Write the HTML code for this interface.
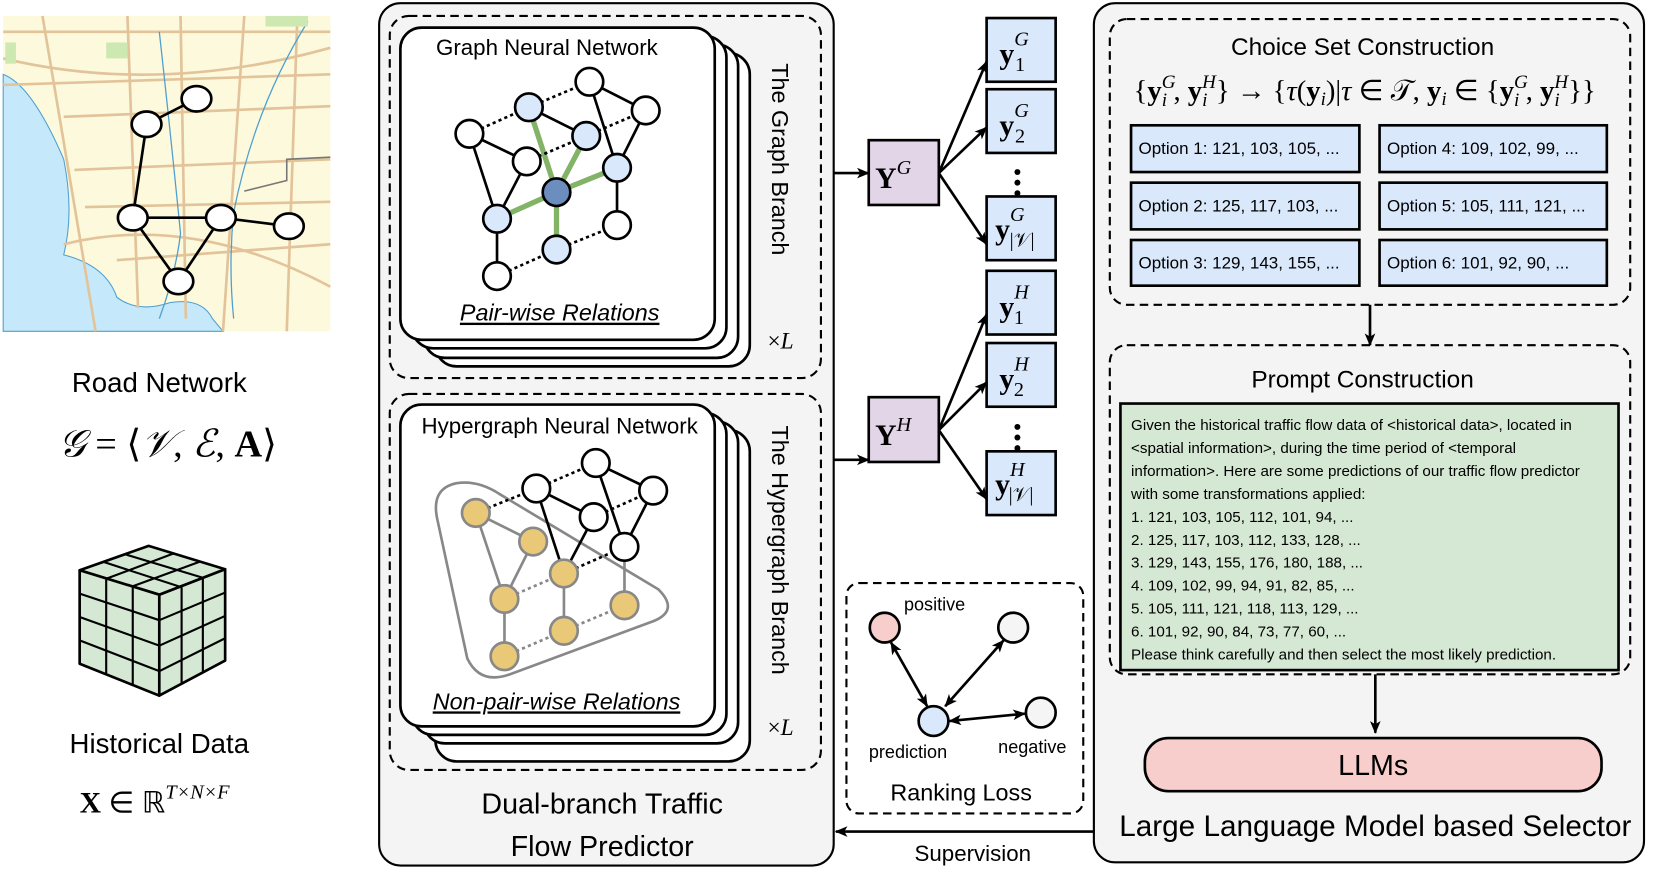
<!DOCTYPE html>
<html><head><meta charset="utf-8"><style>
html,body{margin:0;padding:0;background:#fff;}
svg{display:block;}
text{font-family:"Liberation Sans",sans-serif;fill:#000;}
.m{font-family:"Liberation Serif",serif;}
</style></head><body>
<svg width="1661" height="874" viewBox="0 0 1564 823" preserveAspectRatio="none" xmlns="http://www.w3.org/2000/svg">
<defs>
<marker id="ah" viewBox="0 0 12 10" refX="11" refY="5" markerWidth="12" markerHeight="10" markerUnits="userSpaceOnUse" orient="auto-start-reverse"><path d="M0,0 L12,5 L0,10 L3,5 z" fill="#000"/></marker>
</defs>
<!-- Map -->
<g>
<rect x="3" y="15" width="308" height="297" fill="#fdf9dc"/>
<path d="M3,70 Q30,80 60,150 Q70,200 60,240 Q100,250 110,280 Q130,295 160,285 Q190,280 200,300 L210,312 L3,312 z" fill="#c5e8fa" stroke="#4d9fd0" stroke-width="1"/>
<g fill="none" stroke="#e3c39a" stroke-width="2.5">
<path d="M3,30 L311,30"/><path d="M3,80 L311,70"/><path d="M60,110 L311,100"/><path d="M70,160 L311,150"/><path d="M80,195 L311,190"/><path d="M110,245 L311,230"/>
<path d="M40,15 L90,312"/><path d="M120,15 L130,290"/><path d="M170,15 L175,300"/><path d="M230,15 L210,312"/><path d="M280,15 L270,312"/>
<path d="M3,55 Q150,90 311,45"/><path d="M60,230 Q180,200 311,270"/>
</g>
<g fill="none" stroke="#4d9fd0" stroke-width="1.2"><path d="M150,30 Q160,120 170,220 Q165,260 150,300"/><path d="M290,20 Q240,100 220,200 Q215,250 220,300"/></g>
<path d="M230,180 L270,170 L270,150 L311,148" fill="none" stroke="#777" stroke-width="1.5"/>
<g fill="#cde8b0"><rect x="100" y="40" width="20" height="15"/><rect x="250" y="15" width="40" height="10"/><rect x="5" y="40" width="10" height="20"/></g>
<g stroke="#000" stroke-width="2.5"><line x1="185" y1="93" x2="138" y2="117"/><line x1="138" y1="117" x2="125" y2="205"/><line x1="125" y1="205" x2="208" y2="205"/><line x1="208" y1="205" x2="272" y2="213"/><line x1="125" y1="205" x2="168" y2="265"/><line x1="208" y1="205" x2="168" y2="265"/></g>
<g fill="#fff" stroke="#000" stroke-width="2.5"><ellipse cx="185" cy="93" rx="14" ry="12"/><ellipse cx="138" cy="117" rx="14" ry="12"/><ellipse cx="125" cy="205" rx="14" ry="12"/><ellipse cx="208" cy="205" rx="14" ry="12"/><ellipse cx="272" cy="213" rx="14" ry="12"/><ellipse cx="168" cy="265" rx="14" ry="12"/></g>
</g>
<text x="150" y="369" font-size="26" text-anchor="middle">Road Network</text>
<text x="158" y="430" font-size="36" text-anchor="middle" class="m"><tspan font-style="italic">𝒢</tspan> = ⟨<tspan font-style="italic">𝒱</tspan>, <tspan font-style="italic">ℰ</tspan>, <tspan font-weight="bold">A</tspan>⟩</text>
<!-- Cube -->
<g stroke="#000" stroke-width="2.5" fill="#d5e8d4" stroke-linejoin="round">
<polygon points="75,537 140,514 212,536 150,560"/>
<polygon points="75,537 150,560 150,655 75,625"/>
<polygon points="150,560 212,536 212,622 150,655"/>
<g fill="none" stroke-width="2">
<line x1="97" y1="529" x2="171" y2="553"/><line x1="118" y1="522" x2="191" y2="544"/>
<line x1="100" y1="545" x2="164" y2="521"/><line x1="125" y1="552" x2="188" y2="529"/>
<line x1="100" y1="545" x2="100" y2="635"/><line x1="125" y1="552" x2="125" y2="645"/>
<line x1="171" y1="553" x2="171" y2="644"/><line x1="191" y1="544" x2="191" y2="633"/>
<line x1="75" y1="559" x2="150" y2="584"/><line x1="75" y1="581" x2="150" y2="608"/><line x1="75" y1="603" x2="150" y2="632"/>
<line x1="150" y1="584" x2="212" y2="558"/><line x1="150" y1="608" x2="212" y2="580"/><line x1="150" y1="632" x2="212" y2="601"/>
</g></g>
<text x="150" y="709" font-size="26" text-anchor="middle">Historical Data</text>
<text x="75" y="765" font-size="28" class="m"><tspan font-weight="bold">X</tspan> ∈ ℝ<tspan font-size="19" dy="-13" font-style="italic">T×N×F</tspan></text>

<!-- Main left box -->
<rect x="357" y="3" width="428" height="812" rx="20" fill="#f4f4f4" stroke="#000" stroke-width="2"/>
<rect x="367" y="15" width="406" height="341" rx="18" fill="none" stroke="#000" stroke-width="2" stroke-dasharray="8,5"/>
<rect x="367" y="371" width="406" height="354" rx="18" fill="none" stroke="#000" stroke-width="2" stroke-dasharray="8,5"/>
<g fill="#fff" stroke="#000" stroke-width="2.5">
<rect x="410" y="50" width="296" height="295" rx="20"/><rect x="399" y="42" width="296" height="295" rx="20"/><rect x="388" y="34" width="296" height="294" rx="20"/><rect x="377" y="26" width="296" height="294" rx="20"/>
<rect x="410" y="405" width="296" height="312" rx="20"/><rect x="399" y="397" width="296" height="303" rx="20"/><rect x="388" y="389" width="296" height="303" rx="20"/><rect x="377" y="381" width="296" height="303" rx="20"/>
</g>
<text x="515" y="52" font-size="21" text-anchor="middle">Graph Neural Network</text>
<text x="527" y="302" font-size="22" text-anchor="middle" font-style="italic" text-decoration="underline">Pair-wise Relations</text>
<text x="527" y="408" font-size="21" text-anchor="middle">Hypergraph Neural Network</text>
<text x="524" y="668" font-size="22" text-anchor="middle" font-style="italic" text-decoration="underline">Non-pair-wise Relations</text>
<text transform="translate(727,150) rotate(90)" font-size="22" text-anchor="middle">The Graph Branch</text>
<text transform="translate(727,518) rotate(90)" font-size="22" text-anchor="middle">The Hypergraph Branch</text>
<text x="735" y="328" font-size="22" text-anchor="middle" class="m">×<tspan font-style="italic">L</tspan></text>
<text x="735" y="692" font-size="22" text-anchor="middle" class="m">×<tspan font-style="italic">L</tspan></text>
<!-- graph -->
<g stroke="#82b366" stroke-width="5"><line x1="498" y1="101" x2="524" y2="181"/><line x1="552" y1="128" x2="524" y2="181"/><line x1="581" y1="158" x2="524" y2="181"/><line x1="468" y1="206" x2="524" y2="181"/><line x1="524" y1="235" x2="524" y2="181"/></g>
<g stroke="#000" stroke-width="2.5"><line x1="442" y1="126" x2="496" y2="152"/><line x1="442" y1="126" x2="468" y2="206"/><line x1="496" y1="152" x2="468" y2="206"/><line x1="498" y1="101" x2="552" y2="128"/><line x1="555" y1="77" x2="608" y2="104"/><line x1="555" y1="77" x2="581" y2="158"/><line x1="608" y1="104" x2="581" y2="158"/><line x1="581" y1="158" x2="581" y2="212"/><line x1="468" y1="206" x2="468" y2="260"/></g>
<g stroke="#000" stroke-width="2.5" stroke-dasharray="3,3"><line x1="442" y1="126" x2="498" y2="101"/><line x1="498" y1="101" x2="555" y2="77"/><line x1="496" y1="152" x2="552" y2="128"/><line x1="552" y1="128" x2="608" y2="104"/><line x1="524" y1="235" x2="581" y2="212"/><line x1="468" y1="260" x2="524" y2="235"/></g>
<g stroke="#000" stroke-width="2.5"><g fill="#fff"><circle cx="555" cy="77" r="13"/><circle cx="442" cy="126" r="13"/><circle cx="608" cy="104" r="13"/><circle cx="496" cy="152" r="13"/><circle cx="581" cy="212" r="13"/><circle cx="468" cy="260" r="13"/></g>
<g fill="#dae8fc"><circle cx="498" cy="101" r="13"/><circle cx="552" cy="128" r="13"/><circle cx="581" cy="158" r="13"/><circle cx="468" cy="206" r="13"/><circle cx="524" cy="235" r="13"/></g>
<circle cx="524" cy="181" r="13" fill="#6c8ebf"/></g>
<!-- hypergraph -->
<path d="M430,455 Q405,460 412,490 L440,620 Q452,645 480,635 L615,585 Q640,575 620,555 L470,465 Q450,452 430,455 z" fill="none" stroke="#888" stroke-width="2.5"/>
<g stroke="#888" stroke-width="2.5"><line x1="448" y1="483" x2="502" y2="510"/><line x1="448" y1="483" x2="475" y2="564"/><line x1="502" y1="510" x2="475" y2="564"/><line x1="531" y1="540" x2="531" y2="594"/><line x1="475" y1="564" x2="475" y2="618"/><line x1="588" y1="515" x2="588" y2="570"/></g>
<g stroke="#888" stroke-width="2.5" stroke-dasharray="3,3"><line x1="475" y1="564" x2="531" y2="540"/><line x1="531" y1="594" x2="588" y2="570"/><line x1="475" y1="618" x2="531" y2="594"/></g>
<g stroke="#000" stroke-width="2.5"><line x1="505" y1="460" x2="559" y2="487"/><line x1="561" y1="436" x2="615" y2="462"/><line x1="561" y1="436" x2="588" y2="515"/><line x1="615" y1="462" x2="588" y2="515"/><line x1="505" y1="460" x2="531" y2="540"/><line x1="559" y1="487" x2="531" y2="540"/></g>
<g stroke="#000" stroke-width="2.5" stroke-dasharray="3,3"><line x1="505" y1="460" x2="561" y2="436"/><line x1="559" y1="487" x2="615" y2="462"/><line x1="448" y1="483" x2="505" y2="460"/><line x1="531" y1="540" x2="588" y2="515"/></g>
<g stroke="#000" stroke-width="2.5" fill="#fff"><circle cx="561" cy="436" r="13"/><circle cx="505" cy="460" r="13"/><circle cx="615" cy="462" r="13"/><circle cx="559" cy="487" r="13"/><circle cx="588" cy="515" r="13"/></g>
<g stroke="#888" stroke-width="2.5" fill="#e9c978"><circle cx="448" cy="483" r="13"/><circle cx="502" cy="510" r="13"/><circle cx="531" cy="540" r="13"/><circle cx="475" cy="564" r="13"/><circle cx="588" cy="570" r="13"/><circle cx="531" cy="594" r="13"/><circle cx="475" cy="618" r="13"/></g>
<text x="567" y="766" font-size="27" text-anchor="middle">Dual-branch Traffic</text>
<text x="567" y="806" font-size="27" text-anchor="middle">Flow Predictor</text>

<!-- middle -->
<g stroke="#000" stroke-width="2.5" fill="none" marker-end="url(#ah)">
<line x1="785" y1="163" x2="818" y2="163"/><line x1="785" y1="433" x2="818" y2="433"/>
<line x1="884" y1="163" x2="929" y2="58"/><line x1="884" y1="163" x2="929" y2="120"/><line x1="884" y1="163" x2="929" y2="230"/>
<line x1="884" y1="405" x2="929" y2="296"/><line x1="884" y1="405" x2="929" y2="360"/><line x1="884" y1="405" x2="929" y2="470"/>
</g>
<g stroke="#000" stroke-width="2.5" fill="#e1d5e7"><rect x="818" y="132" width="66" height="61"/><rect x="818" y="374" width="66" height="61"/></g>
<g stroke="#000" stroke-width="2.5" fill="#dae8fc"><rect x="929" y="17" width="65" height="60"/><rect x="929" y="84" width="65" height="60"/><rect x="929" y="185" width="65" height="60"/><rect x="929" y="255" width="65" height="60"/><rect x="929" y="323" width="65" height="60"/><rect x="929" y="425" width="65" height="60"/></g>
<g class="m" font-size="28">
<text x="824" y="177" class="m" font-weight="bold">Y<tspan font-size="19" dy="-13" font-style="italic" font-weight="normal">G</tspan></text>
<text x="824" y="419" class="m" font-weight="bold">Y<tspan font-size="19" dy="-13" font-style="italic" font-weight="normal">H</tspan></text>
<text x="941" y="60" class="m" font-weight="bold">y<tspan font-size="19" dy="-17" font-style="italic" font-weight="normal">G</tspan><tspan font-size="19" dx="-13" dy="24" font-weight="normal">1</tspan></text>
<text x="941" y="127" class="m" font-weight="bold">y<tspan font-size="19" dy="-17" font-style="italic" font-weight="normal">G</tspan><tspan font-size="19" dx="-13" dy="24" font-weight="normal">2</tspan></text>
<text x="937" y="225" class="m" font-weight="bold">y<tspan font-size="19" dy="-17" font-style="italic" font-weight="normal">G</tspan><tspan font-size="19" dx="-14" dy="24" font-weight="normal">|𝒱|</tspan></text>
<text x="941" y="298" class="m" font-weight="bold">y<tspan font-size="19" dy="-17" font-style="italic" font-weight="normal">H</tspan><tspan font-size="19" dx="-14" dy="24" font-weight="normal">1</tspan></text>
<text x="941" y="366" class="m" font-weight="bold">y<tspan font-size="19" dy="-17" font-style="italic" font-weight="normal">H</tspan><tspan font-size="19" dx="-14" dy="24" font-weight="normal">2</tspan></text>
<text x="937" y="465" class="m" font-weight="bold">y<tspan font-size="19" dy="-17" font-style="italic" font-weight="normal">H</tspan><tspan font-size="19" dx="-15" dy="24" font-weight="normal">|𝒱|</tspan></text>
</g>
<g fill="#000"><circle cx="958" cy="162" r="2.8"/><circle cx="958" cy="172" r="2.8"/><circle cx="958" cy="182" r="2.8"/><circle cx="958" cy="402" r="2.8"/><circle cx="958" cy="412" r="2.8"/><circle cx="958" cy="422" r="2.8"/></g>

<!-- ranking loss -->
<rect x="797" y="549" width="223" height="217" rx="12" fill="none" stroke="#000" stroke-width="2" stroke-dasharray="8,5"/>
<g stroke="#000" stroke-width="2.5" marker-start="url(#ah)" marker-end="url(#ah)"><line x1="839" y1="605" x2="873" y2="665"/><line x1="945" y1="603" x2="890" y2="665"/><line x1="894" y1="679" x2="965" y2="672"/></g>
<g stroke="#000" stroke-width="2.5"><circle cx="833" cy="591" r="14" fill="#f8cecc"/><circle cx="954" cy="591" r="14" fill="#f5f5f5"/><circle cx="879" cy="679" r="14" fill="#dae8fc"/><circle cx="980" cy="671" r="14" fill="#f5f5f5"/></g>
<text x="880" y="575" font-size="17" text-anchor="middle">positive</text>
<text x="855" y="714" font-size="17" text-anchor="middle">prediction</text>
<text x="972" y="709" font-size="17" text-anchor="middle">negative</text>
<text x="905" y="754" font-size="22" text-anchor="middle">Ranking Loss</text>
<line x1="1030" y1="783" x2="787" y2="783" stroke="#000" stroke-width="2.5" marker-end="url(#ah)"/>
<text x="916" y="811" font-size="21" text-anchor="middle">Supervision</text>

<!-- right box -->
<rect x="1030" y="3" width="518" height="809" rx="20" fill="#f4f4f4" stroke="#000" stroke-width="2"/>
<rect x="1045" y="18" width="490" height="269" rx="16" fill="none" stroke="#000" stroke-width="2" stroke-dasharray="8,5"/>
<text x="1283" y="52" font-size="23" text-anchor="middle">Choice Set Construction</text>
<text x="1285" y="94" font-size="27" text-anchor="middle" class="m">{<tspan font-weight="bold">y</tspan><tspan font-size="18" dy="-11" font-style="italic">G</tspan><tspan font-size="18" dy="17" dx="-13" font-style="italic">i</tspan><tspan dy="-6" dx="6">, </tspan><tspan font-weight="bold">y</tspan><tspan font-size="18" dy="-11" font-style="italic">H</tspan><tspan font-size="18" dy="17" dx="-13" font-style="italic">i</tspan><tspan dy="-6" dx="8">} → {</tspan><tspan font-style="italic">τ</tspan>(<tspan font-weight="bold">y</tspan><tspan font-size="18" dy="5" font-style="italic">i</tspan><tspan dy="-5">)|</tspan><tspan font-style="italic">τ</tspan> ∈ 𝒯, <tspan font-weight="bold">y</tspan><tspan font-size="18" dy="5" font-style="italic">i</tspan><tspan dy="-5"> ∈ {</tspan><tspan font-weight="bold">y</tspan><tspan font-size="18" dy="-11" font-style="italic">G</tspan><tspan font-size="18" dy="17" dx="-13" font-style="italic">i</tspan><tspan dy="-6" dx="6">, </tspan><tspan font-weight="bold">y</tspan><tspan font-size="18" dy="-11" font-style="italic">H</tspan><tspan font-size="18" dy="17" dx="-13" font-style="italic">i</tspan><tspan dy="-6" dx="8">}}</tspan></text>
<g stroke="#000" stroke-width="2.5" fill="#dae8fc"><rect x="1065" y="118" width="215" height="44"/><rect x="1299" y="118" width="214" height="44"/><rect x="1065" y="172" width="215" height="44"/><rect x="1299" y="172" width="214" height="44"/><rect x="1065" y="226" width="215" height="43"/><rect x="1299" y="226" width="214" height="43"/></g>
<g font-size="16"><text x="1072" y="145">Option 1: 121, 103, 105, ...</text><text x="1306" y="145">Option 4: 109, 102, 99, ...</text><text x="1072" y="199">Option 2: 125, 117, 103, ...</text><text x="1306" y="199">Option 5: 105, 111, 121, ...</text><text x="1072" y="253">Option 3: 129, 143, 155, ...</text><text x="1306" y="253">Option 6: 101, 92, 90, ...</text></g>
<line x1="1290" y1="287" x2="1290" y2="325" stroke="#000" stroke-width="2.5" marker-end="url(#ah)"/>
<rect x="1045" y="325" width="490" height="310" rx="16" fill="none" stroke="#000" stroke-width="2" stroke-dasharray="8,5"/>
<text x="1283" y="365" font-size="23" text-anchor="middle">Prompt Construction</text>
<rect x="1055" y="380" width="469" height="251" fill="#d5e8d4" stroke="#000" stroke-width="2.5"/>
<g font-size="14.3"><text x="1065" y="405">Given the historical traffic flow data of  &lt;historical data&gt;, located in</text>
<text x="1065" y="426.6">&lt;spatial information&gt;, during the time period of &lt;temporal</text>
<text x="1065" y="448.2">information&gt;. Here are some predictions of our traffic flow predictor</text>
<text x="1065" y="469.8">with some transformations applied:</text>
<text x="1065" y="491.4">1. 121, 103, 105, 112, 101, 94, ...</text>
<text x="1065" y="513">2. 125, 117, 103, 112, 133, 128, ...</text>
<text x="1065" y="534.6">3. 129, 143, 155, 176, 180, 188, ...</text>
<text x="1065" y="556.2">4. 109, 102, 99, 94, 91, 82, 85, ...</text>
<text x="1065" y="577.8">5. 105, 111, 121, 118, 113, 129, ...</text>
<text x="1065" y="599.4">6. 101, 92, 90, 84, 73, 77, 60, ...</text>
<text x="1065" y="621">Please think carefully and then select the most likely prediction.</text></g>
<line x1="1295" y1="635" x2="1295" y2="690" stroke="#000" stroke-width="2.5" marker-end="url(#ah)"/>
<rect x="1078" y="695" width="430" height="50" rx="22" fill="#f8cecc" stroke="#000" stroke-width="2.5"/>
<text x="1293" y="730" font-size="27" text-anchor="middle">LLMs</text>
<text x="1295" y="787" font-size="28" text-anchor="middle">Large Language Model based Selector</text>
</svg>
</body></html>
